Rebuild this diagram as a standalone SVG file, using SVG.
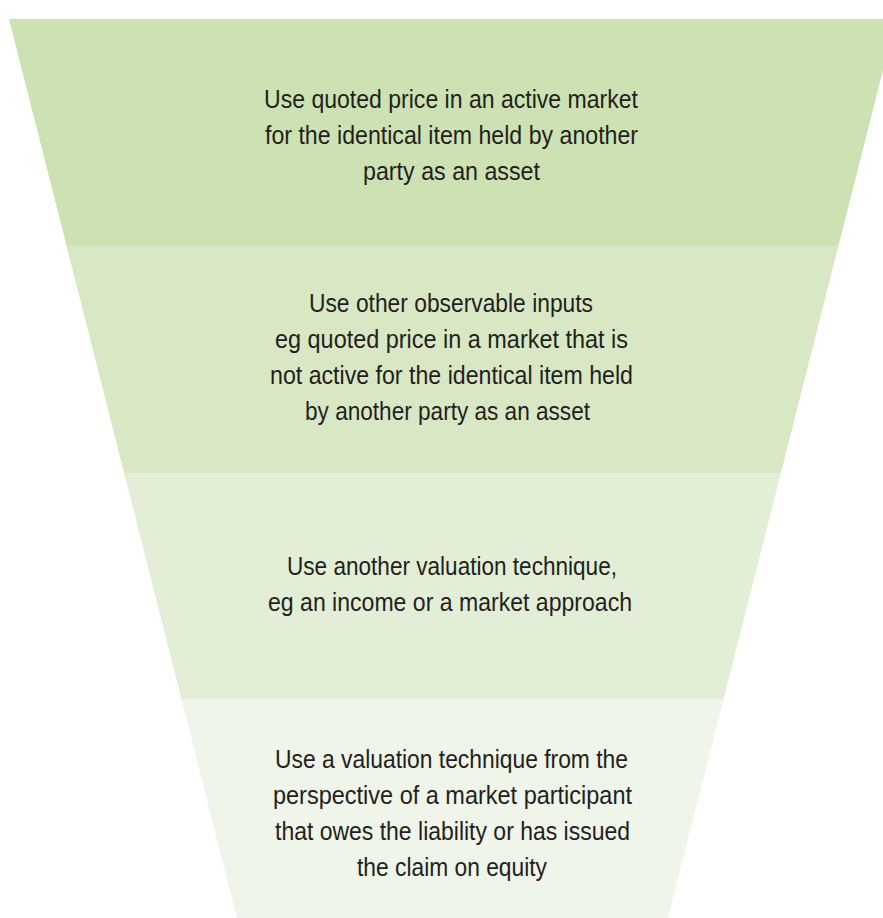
<svg xmlns="http://www.w3.org/2000/svg" width="883" height="918" viewBox="0 0 883 918">
<style>
.t{font-family:"Liberation Sans Narrow","Liberation Sans",Arial,sans-serif;font-size:25px;fill:#231f20;text-anchor:middle}
</style>
<rect width="883" height="918" fill="#ffffff"/>
<g id="level1">
<polygon points="9,19 896,19 838.4,246 66.6,246" fill="#cde2b3"/>
<text class="t" x="451" y="108" textLength="374" lengthAdjust="spacingAndGlyphs">Use quoted price in an active market</text>
<text class="t" x="451.5" y="144" textLength="373" lengthAdjust="spacingAndGlyphs">for the identical item held by another</text>
<text class="t" x="451.5" y="180" textLength="177" lengthAdjust="spacingAndGlyphs">party as an asset</text>
</g>
<g id="level2">
<polygon points="66.6,246 838.4,246 780.9,473 124.1,473" fill="#d8e8c5"/>
<text class="t" x="451" y="312" textLength="284" lengthAdjust="spacingAndGlyphs">Use other observable inputs</text>
<text class="t" x="451.5" y="348" textLength="353" lengthAdjust="spacingAndGlyphs">eg quoted price in a market that is</text>
<text class="t" x="451.5" y="384" textLength="363" lengthAdjust="spacingAndGlyphs">not active for the identical item held</text>
<text class="t" x="447.5" y="420" textLength="285" lengthAdjust="spacingAndGlyphs">by another party as an asset</text>
</g>
<g id="level3">
<polygon points="124.1,473 780.9,473 723.6,699 181.4,699" fill="#e3eed6"/>
<text class="t" x="452" y="575" textLength="330" lengthAdjust="spacingAndGlyphs">Use another valuation technique,</text>
<text class="t" x="450" y="611" textLength="364" lengthAdjust="spacingAndGlyphs">eg an income or a market approach</text>
</g>
<g id="level4">
<polygon points="181.4,699 723.6,699 668,918 237,918" fill="#eff5e8"/>
<text class="t" x="451.5" y="768" textLength="353" lengthAdjust="spacingAndGlyphs">Use a valuation technique from the</text>
<text class="t" x="452.5" y="804" textLength="359" lengthAdjust="spacingAndGlyphs">perspective of a market participant</text>
<text class="t" x="452.5" y="840" textLength="355" lengthAdjust="spacingAndGlyphs">that owes the liability or has issued</text>
<text class="t" x="452" y="876" textLength="190" lengthAdjust="spacingAndGlyphs">the claim on equity</text>
</g>
<g id="connectors"></g>
</svg>
